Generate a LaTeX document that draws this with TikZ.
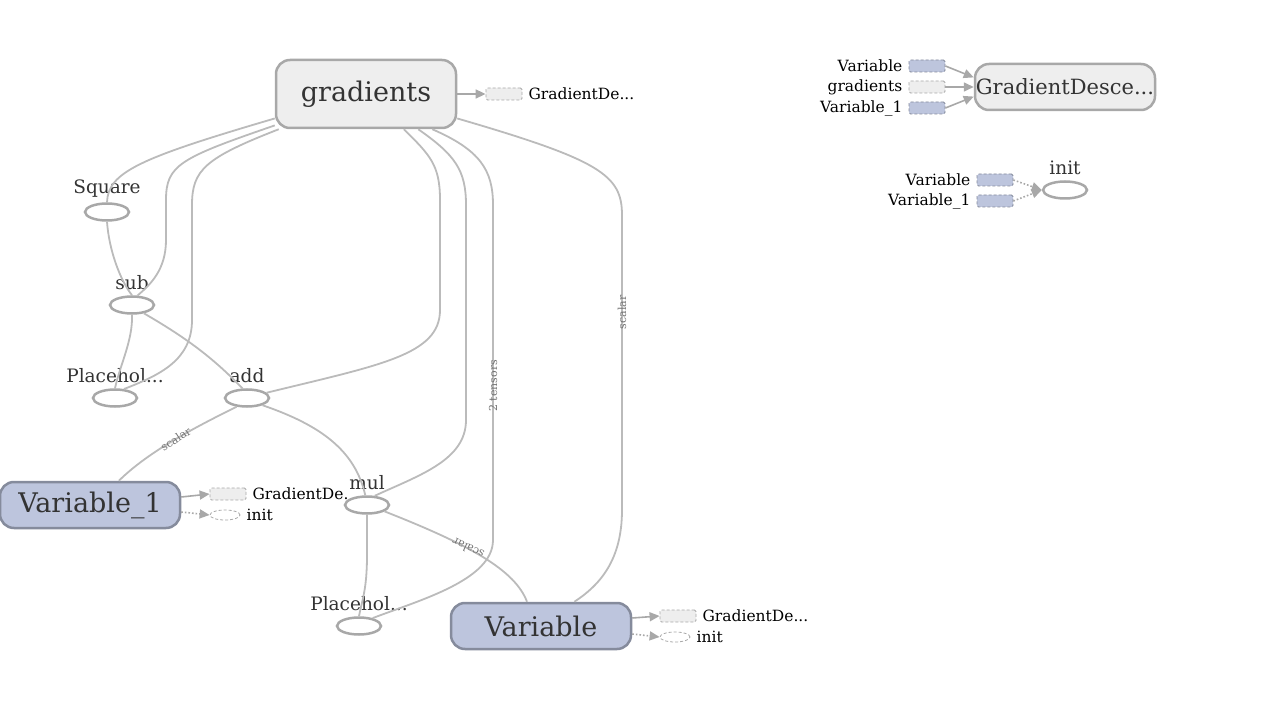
\documentclass[tikz,border=0pt]{standalone}
\usepackage{fontspec}
\setmainfont{DejaVu Serif}
\usetikzlibrary{arrows.meta, positioning, shapes.geometric}

\definecolor{metafill}{HTML}{EEEEEE}
\definecolor{metaline}{HTML}{A8A8A8}
\definecolor{varfill}{HTML}{BDC5DD}
\definecolor{varline}{HTML}{858B9C}
\definecolor{edgecol}{HTML}{BBBBBB}
\definecolor{txtcol}{HTML}{333333}

\begin{document}
\begin{tikzpicture}[x=1pt, y=-1pt,
  meta/.style={draw=metaline, fill=metafill, line width=2.5pt, rounded corners=14pt,
    minimum width=180pt, minimum height=46pt, inner sep=0pt, text=txtcol, font=\fontsize{27}{30}\selectfont},
  varnode/.style={meta, draw=varline, fill=varfill},
  op/.style={ellipse, draw=metaline, fill=white, line width=2.5pt, minimum width=44pt, minimum height=17pt, inner sep=0pt},
  oplbl/.style={text=txtcol, font=\fontsize{18.5}{21}\selectfont, inner sep=0pt, above=5pt},
  stubbox/.style={draw=metaline, densely dashed, line width=0.8pt, rounded corners=1.5pt, minimum width=36pt, minimum height=12pt, inner sep=0pt, fill=metafill},
  stubvar/.style={stubbox, draw=varline, fill=varfill},
  stubop/.style={ellipse, draw=metaline, densely dashed, line width=0.8pt, minimum width=30pt, minimum height=10pt, inner sep=0pt},
  stublbl/.style={font=\fontsize{15.5}{18}\selectfont, inner sep=0pt},
  stubarrow/.style={draw=metaline, line width=1.6pt, -{Triangle[length=10pt, width=9pt]}},
  edge/.style={draw=edgecol, line width=1.8pt},
  elbl/.style={text=black!55, font=\fontsize{11}{12}\selectfont, inner sep=1pt}]

\useasboundingbox (0,0) rectangle (1275,711);

% main graph nodes
\node[meta, minimum height=68pt] (grad) at (366,94) {gradients};
\node[meta, font=\fontsize{21}{25}\selectfont] (gdesc) at (1065,87) {GradientDesce...};
\node[varnode] (var1) at (90,505) {Variable\_1};
\node[varnode] (var) at (541,626) {Variable};

\node[op] (sq) at (107,212) {};
\node[oplbl] (sqlbl) at (sq.north) {Square};
\node[op] (sub) at (132,305) {};
\node[oplbl] (sublbl) at (sub.north) {sub};
\node[op] (ph1) at (115,398) {};
\node[oplbl] (ph1lbl) at (ph1.north) {Placehol...};
\node[op] (add) at (247,398) {};
\node[oplbl] (addlbl) at (add.north) {add};
\node[op] (mul) at (367,505) {};
\node[oplbl] (mullbl) at (mul.north) {mul};
\node[op] (ph2) at (359,626) {};
\node[oplbl] (ph2lbl) at (ph2.north) {Placehol...};
\node[op] (init) at (1065,190) {};
\node[oplbl] (initlbl) at (init.north) {init};

% edges
\draw[edge] (grad.195) .. controls (140,158) and (108,172) .. (sq.north);
\draw[edge] (grad.199) .. controls (180,158) and (166,165) .. (166,200) -- (166,240)
  .. controls (166,270) and (150,285) .. (sub.60);
\draw[edge] (grad.202) .. controls (205,158) and (192,170) .. (192,205) -- (192,320)
  .. controls (192,360) and (160,375) .. (ph1.45);
\draw[edge] (sq.south) .. controls (109,250) and (120,280) .. (sub.north);
\draw[edge] (sub.south) .. controls (133,340) and (120,365) .. (ph1.north);
\draw[edge] (sub.-35) .. controls (190,340) and (215,360) .. (add.115);
\draw[edge] (grad.-43) .. controls (430,155) and (440,165) .. (440,200) -- (440,310)
  .. controls (440,355) and (380,365) .. (add.15);
\draw[edge] (grad.-34) .. controls (455,155) and (466,170) .. (466,205) -- (466,420)
  .. controls (466,460) and (420,475) .. (mul.50);
\draw[edge] (grad.-28) .. controls (480,150) and (493,170) .. (493,205)
  -- node[elbl, rotate=90, pos=0.54] (lbl2t) {2 tensors} (493,540)
  .. controls (493,580) and (420,600) .. (ph2.30);
\draw[edge] (grad.-15) .. controls (600,160) and (622,175) .. (622,215)
  -- node[elbl, rotate=90, pos=0.33] (lblsc1) {scalar} (622,510)
  .. controls (622,560) and (600,585) .. (var.36);
\draw[edge] (add.220) .. controls (200,425) and (150,450) .. node[elbl, rotate=33, pos=0.5] (lblsc2) {scalar} (var1.40);
\draw[edge] (add.-25) .. controls (320,425) and (355,450) .. (mul.100);
\draw[edge] (mul.south) -- (367,555) .. controls (367,590) and (362,600) .. (ph2.north);
\draw[edge] (mul.-20) .. controls (470,545) and (515,570) .. node[elbl, rotate=155, pos=0.4] (lblsc3) {scalar} (var.120);

% gradients output stub
\node[stubbox] (gstub) at (504,94) {};
\node[stublbl, right=6pt of gstub] (gstubl) {GradientDe...};
\draw[stubarrow] (grad.east) -- (gstub.west);

% GradientDescent inputs
\node[stubvar] (gdin1) at (927,66) {};
\node[stubbox] (gdin2) at (927,87) {};
\node[stubvar] (gdin3) at (927,108) {};
\node[stublbl, left=6pt of gdin1] (gdin1l) {Variable};
\node[stublbl, left=6pt of gdin2] (gdin2l) {gradients};
\node[stublbl, left=6pt of gdin3] (gdin3l) {Variable\_1};
\draw[stubarrow] (gdin1.east) -- (gdesc.174);
\draw[stubarrow] (gdin2.east) -- (gdesc.west);
\draw[stubarrow] (gdin3.east) -- (gdesc.186);

% init inputs
\node[stubvar] (inin1) at (995,180) {};
\node[stubvar] (inin2) at (995,201) {};
\node[stublbl, left=6pt of inin1] (inin1l) {Variable};
\node[stublbl, left=6pt of inin2] (inin2l) {Variable\_1};
\draw[stubarrow, dotted] (inin1.east) -- (init.west);
\draw[stubarrow, dotted] (inin2.east) -- (init.west);

% Variable_1 outputs
\node[stubbox] (v1out1) at (228,494) {};
\node[stubop] (v1out2) at (225,515) {};
\node[stublbl, right=6pt of v1out1] (v1out1l) {GradientDe.};
\node[stublbl, right=6pt of v1out2] (v1out2l) {init};
\draw[stubarrow] (var1.east |- 0,497) -- (v1out1.west);
\draw[stubarrow, dotted] (var1.east |- 0,512) -- (v1out2.west);

% Variable outputs
\node[stubbox] (vout1) at (678,616) {};
\node[stubop] (vout2) at (675,637) {};
\node[stublbl, right=6pt of vout1] (vout1l) {GradientDe...};
\node[stublbl, right=6pt of vout2] (vout2l) {init};
\draw[stubarrow] (var.east |- 0,618) -- (vout1.west);
\draw[stubarrow, dotted] (var.east |- 0,634) -- (vout2.west);
\end{tikzpicture}
\end{document}
